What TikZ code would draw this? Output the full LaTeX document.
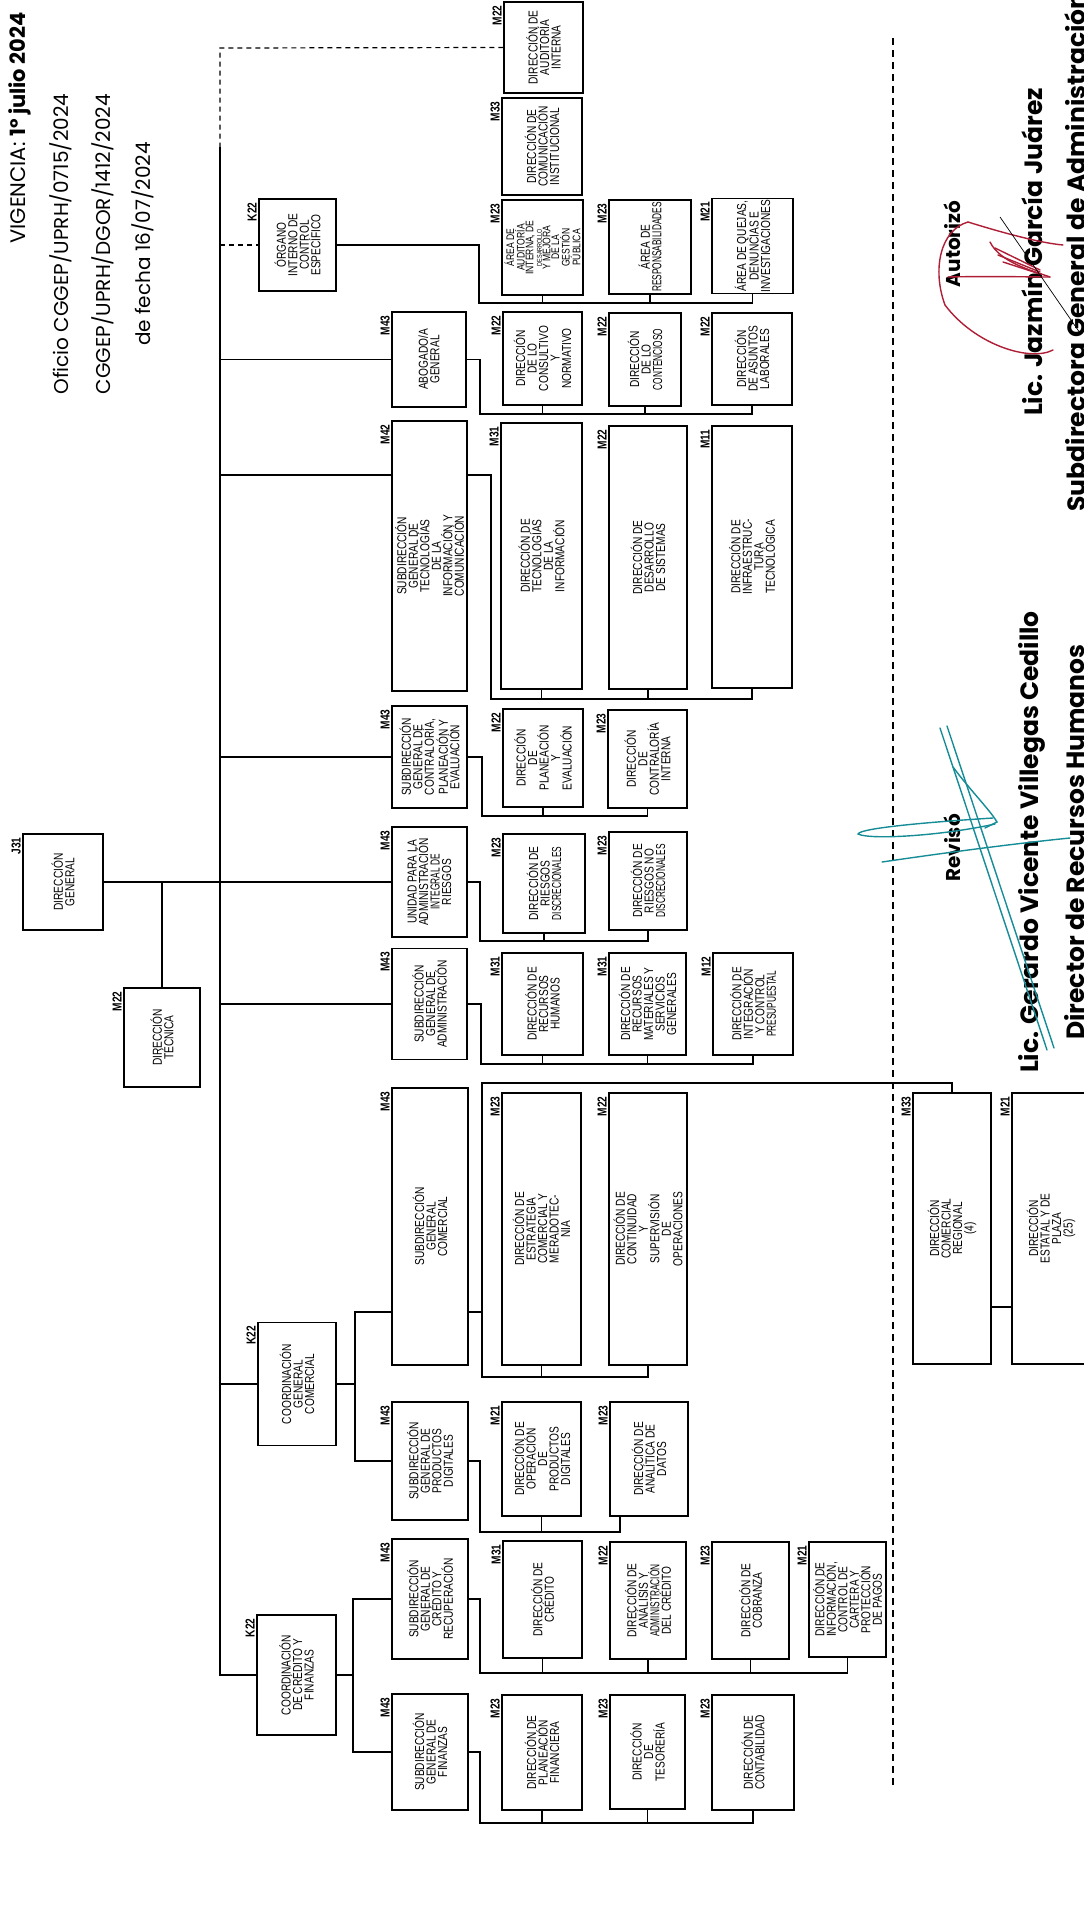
\documentclass[tikz,border=0pt]{standalone}
\usepackage{fontspec}
\usepackage{graphicx}
\newfontfamily\boxfont{Liberation Sans}[FakeStretch=0.78]
\newfontfamily\hdrfont{Poppins}
\newcommand{\sqz}[1]{\scalebox{0.82}[1]{#1}}
\definecolor{sigteal}{RGB}{22,140,150}
\definecolor{sigred}{RGB}{175,30,55}
\tikzset{
  unit/.style={draw,line width=1.3pt,rotate=90,align=center,inner sep=1pt,
    font=\boxfont\fontsize{13}{11.5}\selectfont},
  sz/.style 2 args={minimum height=#1pt,minimum width=#2pt},
  lvl/.style={rotate=90,anchor=south east,inner xsep=4pt,inner ysep=1.5pt,
    font=\boxfont\bfseries\fontsize{13}{13}\selectfont},
  link/.style={line width=1.2pt},
  dotlink/.style={line width=1.2pt,dash pattern=on 5pt off 4pt},
  sepline/.style={line width=1.6pt,dash pattern=on 7pt off 5pt},
  hdr/.style={rotate=90,inner sep=0pt,font=\hdrfont\fontsize{20}{22}\selectfont},
  signer/.style={rotate=90,inner sep=0pt,font=\hdrfont\bfseries\fontsize{25}{27}\selectfont},
  sigword/.style={rotate=90,inner sep=0pt,font=\hdrfont\bfseries\fontsize{20}{22}\selectfont},
  ink/.style={line width=1.4pt,line cap=round}
}
\begin{document}
\begin{tikzpicture}[x=1pt,y=-1pt]
  \useasboundingbox (0,0) rectangle (1084,1909);

  \node[hdr,font=\hdrfont\fontsize{21}{23}\selectfont] (vig) at (20,128) {VIGENCIA: \textbf{1º julio 2024}};
  \node[hdr] (ofi) at (61,244) {Oficio CGGEP/UPRH/0715/2024};
  \node[hdr] (cgg) at (103,244) {CGGEP/UPRH/DGOR/1412/2024};
  \node[hdr] (fec) at (143,244) {de fecha 16/07/2024};

  \node[unit,sz={80}{96},label={[lvl]north east:J31}] (dg) at (63,882) {DIRECCIÓN\\GENERAL};
  \node[unit,sz={76}{99},label={[lvl]north east:M22}] (dt) at (162,1037.5) {DIRECCIÓN\\TÉCNICA};

  \node[unit,sz={77}{92},label={[lvl]north east:K22}] (oic) at (297.5,245) {ÓRGANO\\INTERNO DE\\CONTROL\\ESPECÍFICO};
  \node[unit,sz={78}{123},label={[lvl]north east:K22}] (cgc) at (297,1384) {COORDINACIÓN\\GENERAL\\COMERCIAL};
  \node[unit,sz={79}{120},label={[lvl]north east:K22}] (ccf) at (296.5,1675) {COORDINACIÓN\\DE CRÉDITO Y\\FINANZAS};

  \node[unit,sz={79}{91},label={[lvl]north east:M22}] (dai) at (543.5,47.5) {DIRECCIÓN DE\\AUDITORÍA\\INTERNA};
  \node[unit,sz={80}{97},label={[lvl]north east:M33}] (dci) at (542,146.5) {DIRECCIÓN DE\\COMUNICACIÓN\\INSTITUCIONAL};
  \node[unit,sz={81}{95},label={[lvl]north east:M23},font=\boxfont\fontsize{11}{8.6}\selectfont] (aai) at (542.5,247.5)
    {ÁREA DE\\AUDITORÍA\\INTERNA, DE\\{\fontsize{7}{7}\selectfont DESARROLLO}\\Y MEJORA\\DE LA\\GESTIÓN\\PÚBLICA};
  \node[unit,sz={82}{94},label={[lvl]north east:M23}] (are) at (650,247) {ÁREA DE\\\sqz{RESPONSABILIDADES}};
  \node[unit,sz={81}{92},label={[lvl]north east:M21}] (aqd) at (752.5,246) {ÁREA DE QUEJAS,\\DENUNCIAS E\\INVESTIGACIONES};

  \node[unit,sz={74}{95},label={[lvl]north east:M43}] (abg) at (429,359.5) {ABOGADO/A\\GENERAL};
  \node[unit,sz={79}{93},label={[lvl]north east:M22}] (dcn) at (542.5,358.5) {DIRECCIÓN\\DE LO\\CONSULTIVO\\Y\\NORMATIVO};
  \node[unit,sz={72}{93},label={[lvl]north east:M22}] (dlc) at (645,359.5) {DIRECCIÓN\\DE LO\\\sqz{CONTENCIOSO}};
  \node[unit,sz={80}{92},label={[lvl]north east:M22}] (dal) at (752,359) {DIRECCIÓN\\DE ASUNTOS\\LABORALES};

  \node[unit,sz={75}{270},label={[lvl]north east:M42}] (sgt) at (429.5,556) {SUBDIRECCIÓN\\GENERAL DE\\TECNOLOGÍAS\\DE LA\\INFORMACIÓN Y\\COMUNICACIÓN};
  \node[unit,sz={81}{266},label={[lvl]north east:M31}] (dti) at (541.5,556) {DIRECCIÓN DE\\TECNOLOGÍAS\\DE LA\\INFORMACIÓN};
  \node[unit,sz={78}{263},label={[lvl]north east:M22}] (dds) at (648,557.5) {DIRECCIÓN DE\\DESARROLLO\\DE SISTEMAS};
  \node[unit,sz={80}{262},label={[lvl]north east:M11}] (dit) at (752,557) {DIRECCIÓN DE\\INFRAESTRUC-\\TURA\\TECNOLÓGICA};

  \node[unit,sz={75}{102},label={[lvl]north east:M43}] (sgc) at (429.5,757) {SUBDIRECCIÓN\\GENERAL DE\\CONTRALORÍA,\\PLANEACIÓN Y\\EVALUACIÓN};
  \node[unit,sz={80}{98},label={[lvl]north east:M22}] (dpe) at (543,758) {DIRECCIÓN\\DE\\PLANEACIÓN\\Y\\EVALUACIÓN};
  \node[unit,sz={79}{98},label={[lvl]north east:M23}] (dcin) at (647.5,759) {DIRECCIÓN\\DE\\CONTRALORÍA\\INTERNA};

  \node[unit,sz={75}{110},label={[lvl]north east:M43}] (uair) at (429.5,882) {UNIDAD PARA LA\\ADMINISTRACIÓN\\\sqz{INTEGRAL DE}\\RIESGOS};
  \node[unit,sz={82}{99},label={[lvl]north east:M23}] (drd) at (544,883.5) {DIRECCIÓN DE\\RIESGOS\\\sqz{DISCRECIONALES}};
  \node[unit,sz={78}{98},label={[lvl]north east:M23}] (drnd) at (648,881) {DIRECCIÓN DE\\RIESGOS NO\\\sqz{DISCRECIONALES}};

  \node[unit,sz={75}{111},label={[lvl]north east:M43}] (sga) at (429.5,1004) {SUBDIRECCIÓN\\GENERAL DE\\ADMINISTRACIÓN};
  \node[unit,sz={81}{102},label={[lvl]north east:M31}] (drh) at (542.5,1004) {DIRECCIÓN DE\\RECURSOS\\HUMANOS};
  \node[unit,sz={77}{102},label={[lvl]north east:M31}] (drm) at (647.5,1004) {DIRECCIÓN DE\\RECURSOS\\MATERIALES Y\\SERVICIOS\\GENERALES};
  \node[unit,sz={80}{102},label={[lvl]north east:M12}] (dicp) at (753,1004) {DIRECCIÓN DE\\INTEGRACIÓN\\Y CONTROL\\\sqz{PRESUPUESTAL}};

  \node[unit,sz={76}{277},label={[lvl]north east:M43}] (sgcom) at (430,1226.5) {SUBDIRECCIÓN\\GENERAL\\COMERCIAL};
  \node[unit,sz={79}{272},label={[lvl]north east:M23}] (dec) at (541.5,1229) {DIRECCIÓN DE\\ESTRATEGIA\\COMERCIAL Y\\MERADOTEC-\\NIA};
  \node[unit,sz={78}{272},label={[lvl]north east:M22}] (dcso) at (648,1229) {DIRECCIÓN DE\\CONTINUIDAD\\Y\\SUPERVISIÓN\\DE\\OPERACIONES};
  \node[unit,sz={78}{271},label={[lvl]north east:M33}] (dcr) at (952,1228.5) {DIRECCIÓN\\COMERCIAL\\REGIONAL\\(4)};
  \node[unit,sz={78}{271},label={[lvl]north east:M21}] (dep) at (1051,1228.5) {DIRECCIÓN\\ESTATAL Y DE\\PLAZA\\(25)};

  \node[unit,sz={76}{118},label={[lvl]north east:M43}] (sgpd) at (430,1461) {SUBDIRECCIÓN\\GENERAL DE\\PRODUCTOS\\DIGITALES};
  \node[unit,sz={79}{114},label={[lvl]north east:M21}] (dopd) at (541.5,1459) {DIRECCIÓN DE\\OPERACIÓN\\DE\\PRODUCTOS\\DIGITALES};
  \node[unit,sz={78}{114},label={[lvl]north east:M23}] (dad) at (649,1459) {DIRECCIÓN DE\\ANALÍTICA DE\\DATOS};

  \node[unit,sz={76}{120},label={[lvl]north east:M43}] (sgcr) at (430,1599) {SUBDIRECCIÓN\\GENERAL DE\\CRÉDITO Y\\RECUPERACIÓN};
  \node[unit,sz={79}{117},label={[lvl]north east:M31}] (dcre) at (542.5,1599.5) {DIRECCIÓN DE\\CRÉDITO};
  \node[unit,sz={76}{117},label={[lvl]north east:M22}] (daac) at (648,1600.5) {DIRECCIÓN DE\\ANÁLISIS Y\\\sqz{ADMINISTRACIÓN}\\DEL CRÉDITO};
  \node[unit,sz={77}{117},label={[lvl]north east:M23}] (dcob) at (750.5,1600.5) {DIRECCIÓN DE\\COBRANZA};
  \node[unit,sz={77}{115},label={[lvl]north east:M21}] (dicc) at (847.5,1599.5) {DIRECCIÓN DE\\INFORMACIÓN,\\CONTROL DE\\CARTERA Y\\PROTECCIÓN\\DE PAGOS};

  \node[unit,sz={76}{116},label={[lvl]north east:M43}] (sgf) at (430,1752) {SUBDIRECCIÓN\\GENERAL DE\\FINANZAS};
  \node[unit,sz={80}{115},label={[lvl]north east:M23}] (dpf) at (542,1752.5) {DIRECCIÓN DE\\PLANEACIÓN\\FINANCIERA};
  \node[unit,sz={75}{114},label={[lvl]north east:M23}] (dtes) at (647.5,1752) {DIRECCIÓN\\DE\\TESORERÍA};
  \node[unit,sz={82}{115},label={[lvl]north east:M23}] (dcon) at (753,1752.5) {DIRECCIÓN DE\\CONTABILIDAD};

  \coordinate (ttop) at (220,48);
  \coordinate (tdash) at (220,147);
  \coordinate (busA) at (479,303);
  \coordinate (busB) at (480,414);
  \coordinate (busC) at (491,699);
  \coordinate (busD) at (482,816);
  \coordinate (busE) at (480,941);
  \coordinate (busF) at (481,1064);
  \coordinate (busG) at (482,1377);
  \coordinate (busH) at (480,1532);
  \coordinate (busI) at (480,1673);
  \coordinate (busJ) at (480,1823);
  \coordinate (cgx) at (355,1384);
  \coordinate (ccx) at (353,1675);
  \coordinate (regy) at (482,1083);

  \draw[dotlink] (dai.north) -- (ttop) -- (tdash);
  \draw[link] (tdash) -- (ttop |- ccf.north) -- (ccf.north);
  \draw[dotlink] (ttop |- oic.north) -- (oic.north);
  \draw[link] (ttop |- abg.north) -- (abg.north);
  \draw[link] (ttop |- 0,475) -- (sgt.north |- 0,475);
  \draw[link] (ttop |- sgc.north) -- (sgc.north);
  \draw[link] (dg.south) -- (uair.north);
  \draw[link] (dt.east) -- (dt.east |- dg.south);
  \draw[link] (ttop |- sga.north) -- (sga.north);
  \draw[link] (ttop |- cgc.north) -- (cgc.north);

  \draw[link] (oic.south) -| (busA) -| (aqd.west);
  \draw[link] (aai.west) -- (aai.west |- busA);
  \draw[link] (are.west) -- (are.west |- busA);

  \draw[link] (abg.south) -| (busB) -| (dal.west);
  \draw[link] (dcn.west) -- (dcn.west |- busB);
  \draw[link] (dlc.west) -- (dlc.west |- busB);

  \draw[link] (sgt.south |- 0,475) -| (busC) -| (dit.west);
  \draw[link] (dti.west) -- (dti.west |- busC);
  \draw[link] (dds.west) -- (dds.west |- busC);

  \draw[link] (sgc.south) -| (busD) -| (dcin.west);
  \draw[link] (dpe.west) -- (dpe.west |- busD);

  \draw[link] (uair.south) -| (busE) -| (drnd.west);
  \draw[link] (drd.west) -- (drd.west |- busE);

  \draw[link] (sga.south) -| (busF) -| (dicp.west);
  \draw[link] (drh.west) -- (drh.west |- busF);
  \draw[link] (drm.west) -- (drm.west |- busF);

  \draw[link] (cgc.south) -- (cgx);
  \draw[link] (sgcom.north |- 0,1312) -| (cgx) |- (sgpd.north);
  \draw[link] (sgcom.south |- 0,1312) -| (busG) -| (dcso.west);
  \draw[link] (dec.west) -- (dec.west |- busG);
  \draw[link] (busG) -- (regy) -| (dcr.east);
  \draw[link] (dcr.south |- 0,1307) -- (dep.north |- 0,1307);

  \draw[link] (sgpd.south) -| (busH) -| ([xshift=-29pt]dad.west);
  \draw[link] (dopd.west) -- (dopd.west |- busH);

  \draw[link] (ccf.south) -- (ccx);
  \draw[link] (sgcr.north) -| (ccx) |- (sgf.north);
  \draw[link] (sgcr.south) -| (busI) -| (dicc.west);
  \draw[link] (dcre.west) -- (dcre.west |- busI);
  \draw[link] (daac.west) -- (daac.west |- busI);
  \draw[link] (dcob.west) -- (dcob.west |- busI);

  \draw[link] (sgf.south) -| (busJ) -| (dcon.west);
  \draw[link] (dpf.west) -- (dpf.west |- busJ);
  \draw[link] (dtes.west) -- (dtes.west |- busJ);

  \draw[sepline] (893,38) -- (893,1787);

  \node[sigword] (aut) at (952,244) {Autorizó};
  \node[signer] (jgn) at (1032,252) {Lic. Jazmín García Juárez};
  \node[signer] (jgt) at (1075,252) {Subdirectora General de Administración};
  \node[sigword] (rev) at (952,848) {Revisó};
  \node[signer] (gvn) at (1032,842) {Lic. Gerardo Vicente Villegas Cedillo};
  \node[signer] (gvt) at (1075,842) {Director de Recursos Humanos};

  \draw[ink,sigred] (968,222) .. controls (1000,232) and (1040,243) .. (1063,245);
  \draw[ink,sigred] (948,277) .. controls (990,276) and (1030,277) .. (1050,277);
  \draw[ink,sigred] (1050,277) .. controls (1030,270) and (1000,262) .. (990,242);
  \draw[ink,sigred] (945,305) .. controls (975,345) and (1030,362) .. (1053,350);
  \draw[ink,sigred] (945,305) .. controls (932,270) and (940,230) .. (968,222);
  \draw[ink,sigred] (995,248) -- (1040,270);
  \draw[ink,sigred] (998,255) -- (1040,272);
  \draw[ink,sigred] (1003,262) -- (1040,274);
  \draw[line width=0.7pt] (1000,217) -- (1080,333);

  \draw[ink,sigteal] (940,728) -- (1047,1050);
  \draw[ink,sigteal] (947,726) -- (1054,1048);
  \draw[ink,sigteal] (993,818) .. controls (930,822) and (860,828) .. (858,834) .. controls (870,840) and (940,836) .. (995,824);
  \draw[ink,sigteal] (882,862) .. controls (950,852) and (1020,843) .. (1070,838);
  \draw[ink,sigteal] (953,767) .. controls (970,790) and (990,810) .. (997,822) -- (985,828);
\end{tikzpicture}
\end{document}
